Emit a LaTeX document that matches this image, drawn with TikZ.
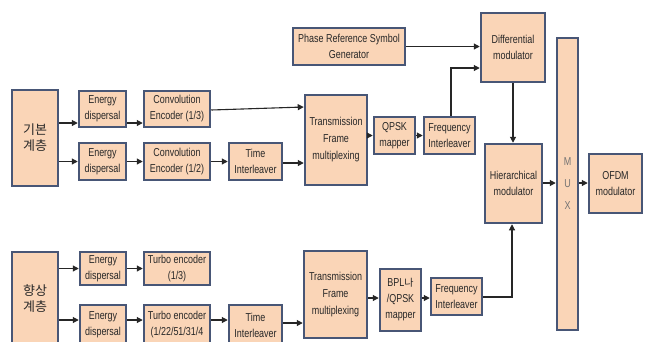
\documentclass[tikz,border=0pt]{standalone}
\usepackage{fontspec}
\setmainfont{Liberation Sans}[FakeStretch=0.78]
\newfontfamily\kr{Noto Sans CJK KR}
\usetikzlibrary{arrows.meta}
\definecolor{boxfill}{RGB}{250,213,183}
\definecolor{boxline}{RGB}{72,86,118}
\definecolor{txt}{RGB}{40,40,40}
\tikzset{
  blk/.style={draw=boxline, line width=2.5pt, fill=boxfill, align=center, inner sep=1pt,
    font=\fontsize{11.5}{16}\selectfont, text=txt},
  arr/.style={draw=black!85, line width=1.1pt, -{Triangle[length=6pt,width=6pt]}},
  ln/.style={draw=black!85, line width=1.1pt}
}
\begin{document}
\begin{tikzpicture}[x=1pt,y=-1pt]
\useasboundingbox (0,0) rectangle (650,341);
\clip (0,0) rectangle (650,341);
\fill[white] (0,0) rectangle (650,341);
% upper layer
\node[blk, minimum width=46pt, minimum height=96pt, font=\kr\fontsize{13}{16}\selectfont] (base) at (35,138) {기본\\계층};
\node[blk, minimum width=47pt, minimum height=36pt] (ed1) at (102.5,109) {Energy\\dispersal};
\node[blk, minimum width=66pt, minimum height=36pt] (ce1) at (177,109) {Convolution\\Encoder (1/3)};
\node[blk, minimum width=47pt, minimum height=37pt] (ed2) at (102.5,161.5) {Energy\\dispersal};
\node[blk, minimum width=66pt, minimum height=37pt] (ce2) at (177,161.5) {Convolution\\Encoder (1/2)};
\node[blk, minimum width=53pt, minimum height=37pt] (ti1) at (255.5,161.5) {Time\\Interleaver};
\node[blk, minimum width=62pt, minimum height=90pt, font=\fontsize{11.5}{17}\selectfont] (tfm1) at (336,140) {Transmission\\Frame\\multiplexing};
\node[blk, minimum width=112pt, minimum height=37pt] (prsg) at (349,46.5) {Phase Reference Symbol\\Generator};
\node[blk, minimum width=64pt, minimum height=69pt] (dm) at (513,47.5) {Differential\\modulator};
\node[blk, minimum width=41pt, minimum height=37pt] (qpsk) at (394.5,135.5) {QPSK\\mapper};
\node[blk, minimum width=51pt, minimum height=37pt] (fi1) at (449.5,135.5) {Frequency\\Interleaver};
\node[blk, minimum width=57pt, minimum height=79pt] (hm) at (513.5,183.5) {Hierarchical\\modulator};
\node[blk, minimum width=21pt, minimum height=292pt, font=\fontsize{11.5}{22}\selectfont, text=black!55] (mux) at (567.5,184) {M\\U\\X};
\node[blk, minimum width=53pt, minimum height=59pt] (ofdm) at (615.5,183.5) {OFDM\\modulator};
% enhancement layer
\node[blk, minimum width=46pt, minimum height=93pt, font=\kr\fontsize{13}{16}\selectfont] (enh) at (35,298.5) {향상\\계층};
\node[blk, minimum width=46pt, minimum height=33pt] (ed3) at (103,268.5) {Energy\\dispersal};
\node[blk, minimum width=66pt, minimum height=33pt] (te1) at (177,268.5) {Turbo encoder\\(1/3)};
\node[blk, minimum width=46pt, minimum height=40pt] (ed4) at (103,325) {Energy\\dispersal};
\node[blk, minimum width=66pt, minimum height=40pt] (te2) at (177,325) {Turbo encoder\\(1/22/51/31/4};
\node[blk, minimum width=53pt, minimum height=40pt] (ti2) at (255.5,325) {Time\\Interleaver};
\node[blk, minimum width=63pt, minimum height=87pt, font=\fontsize{11.5}{17}\selectfont] (tfm2) at (335.5,294.5) {Transmission\\Frame\\multiplexing};
\node[blk, minimum width=41pt, minimum height=62pt] (bpl) at (400.5,300) {BPL{\kr\fontsize{10}{16}\selectfont 나}\\/QPSK\\mapper};
\node[blk, minimum width=51pt, minimum height=37pt] (fi2) at (456.5,296.5) {Frequency\\Interleaver};
% connectors upper
\draw[arr] (base.east |- 0,123) -- (ed1.west |- 0,123);
\draw[arr] (ed1.east |- 0,123) -- (ce1.west |- 0,123);
\draw[arr] (ce1.east |- 0,110) -- (tfm1.west |- 0,107);
\draw[arr] (base.east |- 0,161.5) -- (ed2.west);
\draw[arr] (ed2.east) -- (ce2.west);
\draw[arr] (ce2.east) -- (ti1.west);
\draw[arr] (ti1.east |- 0,163) -- (tfm1.west |- 0,163);
\draw[arr] (tfm1.east |- 0,135.5) -- (qpsk.west);
\draw[arr] (qpsk.east) -- (fi1.west);
\draw[arr] (prsg.east) -- (dm.west |- prsg.east);
\draw[arr] ([xshift=1.5pt]fi1.north) |- (dm.west |- 0,68);
\draw[arr] (dm.south) -- (hm.north -| dm.south);
\draw[arr] (hm.east |- 0,183) -- (mux.west |- 0,183);
\draw[arr] (mux.east |- 0,183) -- (ofdm.west |- 0,183);
% connectors lower
\draw[arr] (enh.east |- ed3.west) -- (ed3.west);
\draw[arr] (ed3.east) -- (te1.west);
\draw[arr] (enh.east |- 0,320) -- (ed4.west |- 0,320);
\draw[arr] (ed4.east |- 0,320) -- (te2.west |- 0,320);
\draw[arr] (te2.east |- 0,320) -- (ti2.west |- 0,320);
\draw[arr] (ti2.east |- 0,323) -- (tfm2.west |- 0,323);
\draw[arr] (tfm2.east |- 0,298) -- (bpl.west |- 0,298);
\draw[arr] (bpl.east |- 0,298) -- (fi2.west |- 0,298);
\draw[arr] (fi2.east |- 0,297) -| ([xshift=-1.5pt]hm.south);
\end{tikzpicture}
\end{document}
